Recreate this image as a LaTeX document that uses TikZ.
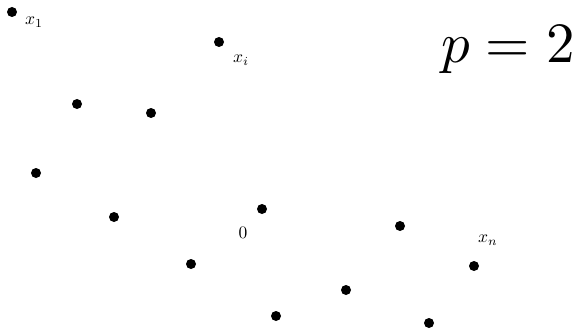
\documentclass[tikz,border=0pt]{standalone}
\usepackage{amsmath,amssymb}
\usetikzlibrary{positioning}

\begin{document}
\begin{tikzpicture}[x=1pt, y=-1pt,
  pt/.style={circle,fill=black,inner sep=0pt,minimum size=10pt},
  lbl/.style={inner sep=0pt}]

\useasboundingbox (0,0) rectangle (576,329);

\node[pt] (x1) at (12,12) {};
\node[pt] (xi) at (219,42) {};
\node[pt] (a) at (77,104) {};
\node[pt] (b) at (151,113) {};
\node[pt] (c) at (36,173) {};
\node[pt] (d) at (114,217) {};
\node[pt] (e) at (262,209) {};
\node[pt] (f) at (400,226) {};
\node[pt] (xn) at (474,266) {};
\node[pt] (g) at (191,264) {};
\node[pt] (h) at (346,290) {};
\node[pt] (k) at (276,316) {};
\node[pt] (m) at (429,323) {};

\node[lbl] (l1) at (34,22) {\scalebox{1.75}{$x_1$}};
\node[lbl] (li) at (241,60) {\scalebox{1.75}{$x_i$}};
\node[lbl] (l0) at (243,233) {\scalebox{1.75}{$0$}};
\node[lbl] (ln) at (488,240) {\scalebox{1.75}{$x_n$}};

\node[inner sep=0pt] (p) at (508,50) {\scalebox{5.7}{$p=2$}};
\end{tikzpicture}
\end{document}
